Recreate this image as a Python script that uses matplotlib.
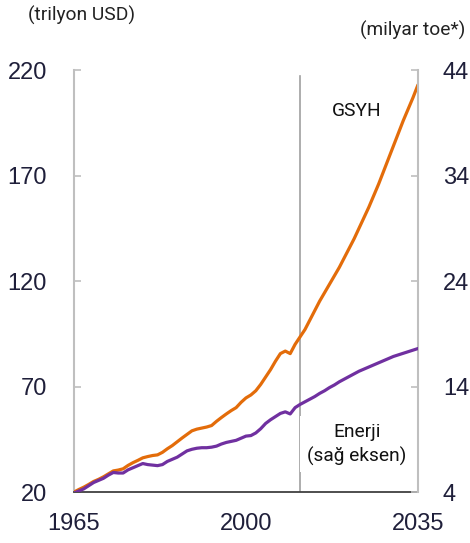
import matplotlib
matplotlib.use("Agg")
import matplotlib.pyplot as plt
import numpy as np

years = list(range(1965, 2036))
gsyh = [20.0, 21.2, 22.3, 23.6, 25.0, 26.0, 27.2, 28.6, 30.0, 30.4,
        31.0, 32.6, 33.9, 35.0, 36.2, 36.8, 37.3, 37.6, 38.8, 40.5,
        42.0, 43.8, 45.6, 47.3, 49.0, 49.8, 50.3, 50.8, 51.5, 53.5,
        55.3, 57.0, 58.6, 60.0, 62.5, 64.6, 66.0, 68.0, 71.0, 74.5,
        78.0, 82.0, 85.6, 86.8, 85.6, 90.0, 93.5, 97.0, 101.5, 106.0,
        110.5, 114.5, 118.5, 122.5, 126.5, 131.0, 135.5, 140.0, 145.0, 150.0,
        155.0, 160.5, 166.0, 172.0, 178.0, 184.0, 190.0, 196.0, 201.5, 207.0,
        213.0]
enerji = [3.9, 4.1, 4.3, 4.6, 4.9, 5.1, 5.3, 5.6, 5.85, 5.8,
          5.8, 6.1, 6.3, 6.5, 6.7, 6.6, 6.55, 6.5, 6.6, 6.9,
          7.1, 7.3, 7.6, 7.9, 8.05, 8.15, 8.2, 8.2, 8.25, 8.35,
          8.55, 8.7, 8.8, 8.9, 9.1, 9.3, 9.35, 9.6, 10.0, 10.5,
          10.85, 11.15, 11.45, 11.6, 11.4, 12.0, 12.3, 12.55, 12.8, 13.05,
          13.35, 13.6, 13.9, 14.15, 14.45, 14.7, 14.95, 15.2, 15.45, 15.65,
          15.85, 16.05, 16.25, 16.45, 16.65, 16.85, 17.0, 17.15, 17.3, 17.45,
          17.6]
left_ticks = [20, 70, 120, 170, 220]
right_ticks = [4, 14, 24, 34, 44]
x_ticks = [1965, 2000, 2035]
forecast_start = 2011

ORANGE = "#E36C0A"
PURPLE = "#7030A0"
TICKCOL = "#1F1F3A"
SPINE = "#BFBFBF"

fig = plt.figure(figsize=(4.70, 5.43), dpi=100)
ax = fig.add_axes([0.1574, 0.0939, 0.7319, 0.7771])
ax2 = ax.twinx()

ax.plot(years, gsyh, color=ORANGE, lw=2.3, solid_capstyle="round", zorder=3)
ax2.plot(years, enerji, color=PURPLE, lw=2.3, solid_capstyle="round", zorder=3)
ax.axvline(forecast_start, ymin=0, ymax=0.985, color="#A0A0A0", lw=1.2, zorder=1)

ax.set_xlim(1965, 2035)
ax.set_ylim(20, 220)
ax2.set_ylim(4, 44)
ax.set_xticks(x_ticks)
ax.set_yticks(left_ticks)
ax2.set_yticks(right_ticks)

for a in (ax, ax2):
    for s in a.spines.values():
        s.set_visible(False)
ax.spines["left"].set_visible(True)
ax.spines["left"].set_color(SPINE)
ax.spines["left"].set_linewidth(1.5)
ax2.spines["right"].set_visible(True)
ax2.spines["right"].set_color(SPINE)
ax2.spines["right"].set_linewidth(1.5)
ax.spines["bottom"].set_visible(True)
ax.spines["bottom"].set_color("#404040")
ax.spines["bottom"].set_linewidth(1.3)

TS = 17
ax.tick_params(axis="y", direction="in", length=5, width=1.2, color=SPINE, pad=19.5,
               labelcolor=TICKCOL, labelsize=TS)
ax2.tick_params(axis="y", direction="in", length=5, width=1.2, color=SPINE, pad=18,
                labelcolor=TICKCOL, labelsize=TS)
ax.tick_params(axis="x", length=0, pad=15, labelcolor=TICKCOL, labelsize=TS)
for lab in ax.get_xticklabels() + ax.get_yticklabels() + ax2.get_yticklabels():
    lab.set_family(["Liberation Sans", "DejaVu Sans"])

lbl_font = ["Roboto", "DejaVu Sans"]
fig.text(28 / 470, 1 - 15 / 543, "(trilyon USD)", family=lbl_font, fontsize=13.8,
         color="#222222", ha="left", va="center")
fig.text(465 / 470, 1 - 30 / 543, "(milyar toe*)", family=lbl_font, fontsize=13.8,
         color="#222222", ha="right", va="center")

ax2.text(0.823, 0.903, "GSYH", transform=ax2.transAxes, family=lbl_font, fontsize=13.8,
         color="#111111", ha="center", va="center", zorder=5)
ax2.text(0.823, 0.113, "Enerji\n(sağ eksen)", transform=ax2.transAxes, family=lbl_font,
         fontsize=13.8, color="#111111", ha="center", va="center", linespacing=1.35,
         zorder=5, bbox=dict(facecolor="white", edgecolor="none", pad=5))

fig.savefig("out.png", dpi=100)
